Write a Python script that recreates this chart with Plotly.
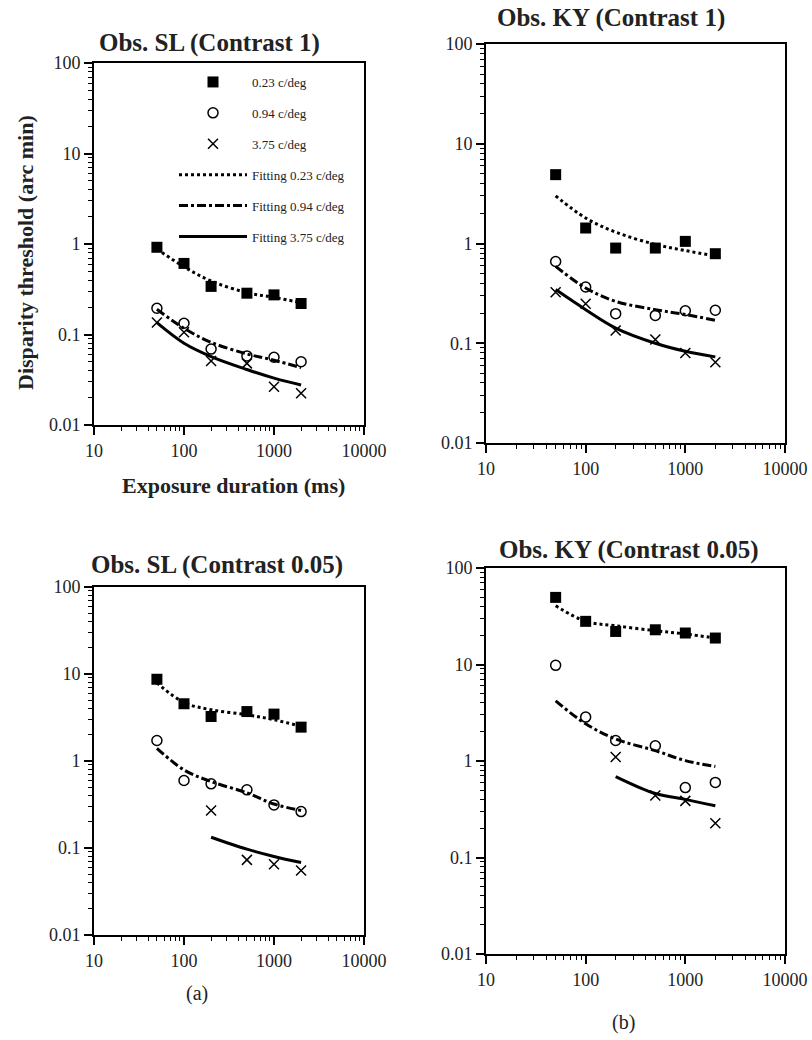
import plotly.graph_objects as go

# exposure durations (ms)
durations = [50, 100, 200, 500, 1000, 2000]

# Obs. SL, contrast 1
sl1_023 = [0.92, 0.61, 0.34, 0.286, 0.274, 0.22]
sl1_094 = [0.195, 0.133, 0.069, 0.058, 0.056, 0.050]
sl1_375 = [0.136, 0.106, 0.051, 0.048, 0.0265, 0.0224]
sl1_fit023 = [0.88, 0.56, 0.39, 0.29, 0.257, 0.225]
sl1_fit094 = [0.19, 0.117, 0.082, 0.061, 0.052, 0.043]
sl1_fit375 = [0.135, 0.080, 0.057, 0.041, 0.033, 0.0277]

# Obs. KY, contrast 1
ky1_023 = [4.9, 1.43, 0.90, 0.90, 1.05, 0.79]
ky1_094 = [0.66, 0.366, 0.198, 0.19, 0.212, 0.214]
ky1_375 = [0.324, 0.249, 0.134, 0.109, 0.080, 0.0645]
ky1_fit023 = [3.0, 1.8, 1.3, 0.98, 0.85, 0.75]
ky1_fit094 = [0.59, 0.358, 0.263, 0.217, 0.194, 0.17]
ky1_fit375 = [0.345, 0.217, 0.142, 0.10, 0.083, 0.073]

# Obs. SL, contrast 0.05
sl5_023 = [8.7, 4.55, 3.25, 3.7, 3.46, 2.45]
sl5_094 = [1.72, 0.597, 0.546, 0.466, 0.313, 0.262]
sl5_375 = [None, None, 0.27, 0.073, 0.065, 0.055]
sl5_fit023 = [7.9, 4.7, 3.88, 3.4, 2.98, 2.5]
sl5_fit094 = [1.4, 0.79, 0.58, 0.43, 0.32, 0.27]
sl5_fit375 = [None, None, 0.133, 0.097, 0.080, 0.068]

# Obs. KY, contrast 0.05
ky5_023 = [49.6, 28.0, 22.0, 22.9, 21.2, 18.8]
ky5_094 = [9.8, 2.85, 1.63, 1.44, 0.53, 0.60]
ky5_375 = [None, None, 1.1, 0.44, 0.386, 0.226]
ky5_fit023 = [40.6, 28.0, 25.2, 22.4, 20.7, 18.8]
ky5_fit094 = [4.2, 2.43, 1.69, 1.28, 1.01, 0.877]
ky5_fit375 = [None, None, 0.69, 0.46, 0.40, 0.343]

panels = [
    (sl1_023, sl1_094, sl1_375, sl1_fit023, sl1_fit094, sl1_fit375),
    (ky1_023, ky1_094, ky1_375, ky1_fit023, ky1_fit094, ky1_fit375),
    (sl5_023, sl5_094, sl5_375, sl5_fit023, sl5_fit094, sl5_fit375),
    (ky5_023, ky5_094, ky5_375, ky5_fit023, ky5_fit094, ky5_fit375),
]
titles = ["Obs. SL (Contrast 1)", "Obs. KY (Contrast 1)",
          "Obs. SL (Contrast 0.05)", "Obs. KY (Contrast 0.05)"]

W, H = 812, 1040
# plot boxes in pixels: left, right, top, bottom
boxes = [(94, 364, 63, 425), (486, 785, 44, 443),
         (94, 364, 587, 935), (486, 785, 568, 954)]

FONT = "Liberation Serif"
TXT = "#222"

fig = go.Figure()

for i, data in enumerate(panels):
    sq, ci, cr, f1, f2, f3 = data
    xa = "x" if i == 0 else "x%d" % (i + 1)
    ya = "y" if i == 0 else "y%d" % (i + 1)
    show = i == 0
    fig.add_trace(go.Scatter(x=durations, y=sq, mode="markers", name="0.23 c/deg",
                             marker=dict(symbol="square", size=11, color="black"),
                             xaxis=xa, yaxis=ya, showlegend=show, legendgroup="a"))
    fig.add_trace(go.Scatter(x=durations, y=ci, mode="markers", name="0.94 c/deg",
                             marker=dict(symbol="circle-open", size=10, color="black",
                                         line=dict(width=1.5)),
                             xaxis=xa, yaxis=ya, showlegend=show, legendgroup="b"))
    fig.add_trace(go.Scatter(x=durations, y=cr, mode="markers", name="3.75 c/deg",
                             marker=dict(symbol="x-thin", size=10, color="black",
                                         line=dict(width=1.5, color="black")),
                             xaxis=xa, yaxis=ya, showlegend=show, legendgroup="c"))
    fig.add_trace(go.Scatter(x=durations, y=f1, mode="lines", name="Fitting 0.23 c/deg",
                             line=dict(color="black", width=3, dash="dot", shape="spline"),
                             xaxis=xa, yaxis=ya, showlegend=show, legendgroup="d"))
    fig.add_trace(go.Scatter(x=durations, y=f2, mode="lines", name="Fitting 0.94 c/deg",
                             line=dict(color="black", width=3, dash="dashdot", shape="spline"),
                             xaxis=xa, yaxis=ya, showlegend=show, legendgroup="e"))
    fig.add_trace(go.Scatter(x=durations, y=f3, mode="lines", name="Fitting 3.75 c/deg",
                             line=dict(color="black", width=3, shape="spline"),
                             xaxis=xa, yaxis=ya, showlegend=show, legendgroup="f"))

axis_common = dict(type="log", showline=True, linewidth=2, linecolor="black", mirror=True,
                   showgrid=False, zeroline=False, automargin=False,
                   ticks="outside", ticklen=8, tickwidth=1.5,
                   tickcolor="black", tickfont=dict(family=FONT, size=18, color=TXT),
                   minor=dict(ticks="outside", ticklen=4, tickwidth=1, tickcolor="black",
                              dtick="D1", showgrid=False))

layout = dict(width=W, height=H, margin=dict(l=0, r=0, t=0, b=0, autoexpand=False),
              paper_bgcolor="white", plot_bgcolor="white", showlegend=True)

annotations = []
for i, (l, r, t, b) in enumerate(boxes):
    sfx = "" if i == 0 else str(i + 1)
    layout["xaxis" + sfx] = dict(axis_common, domain=[l / W, r / W], range=[1, 4],
                                 tickvals=[10, 100, 1000, 10000],
                                 ticktext=["10", "100", "1000", "10000"],
                                 anchor="y" + sfx)
    layout["yaxis" + sfx] = dict(axis_common, domain=[1 - b / H, 1 - t / H], range=[-2, 2],
                                 tickvals=[0.01, 0.1, 1, 10, 100],
                                 ticktext=["0.01", "0.1", "1", "10", "100"],
                                 anchor="x" + sfx)


def note(text, px, py, size, angle=0):
    return dict(text=text, x=px / W, y=1 - py / H, xref="paper", yref="paper",
                showarrow=False, xanchor="center", yanchor="middle", textangle=angle,
                font=dict(family=FONT, size=size, color=TXT))


title_pos = [(209, 43), (611, 18), (217, 565), (629, 550)]
for (tx, ty), txt in zip(title_pos, titles):
    annotations.append(note("<b>%s</b>" % txt, tx, ty, 25))

annotations.append(note("<b>Disparity threshold (arc min)</b>", 25, 253, 22, -90))
annotations.append(note("<b>Exposure duration (ms)</b>", 234, 485, 22))
annotations.append(note("(a)", 197, 993, 20))
annotations.append(note("(b)", 623, 1022, 20))

layout["annotations"] = annotations
layout["legend"] = dict(x=174 / W, y=1 - 67 / H, xanchor="left", yanchor="top",
                        bgcolor="rgba(0,0,0,0)", itemwidth=68, tracegroupgap=11,
                        font=dict(family=FONT, size=13, color=TXT))

fig.update_layout(layout)
# drop the default page margin so the figure sits at the window origin
fig.write_html("out.html", config={"displayModeBar": False},
               post_script="document.body.style.margin='0';")
